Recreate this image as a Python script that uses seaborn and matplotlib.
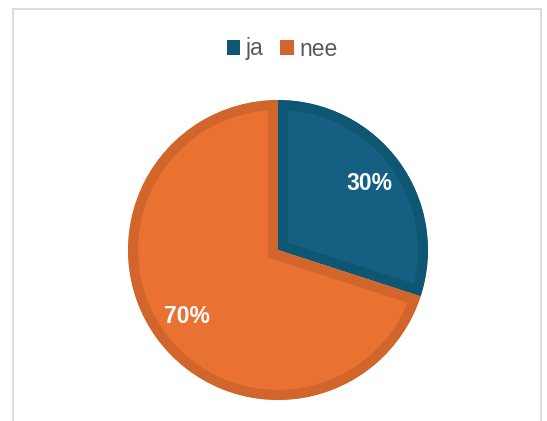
import matplotlib
matplotlib.use("Agg")
import matplotlib.pyplot as plt
import seaborn as sns
from matplotlib.patches import Rectangle, Patch

categories = ["ja", "nee"]
values = [30, 70]
fill_colors = ["#156082", "#E97132"]
edge_colors = ["#0F5673", "#D2652C"]

sns.set_theme(style="white")
plt.rcParams['font.family'] = ['Liberation Sans', 'DejaVu Sans']

W, H = 547, 421
fig = plt.figure(figsize=(W / 100, H / 100), dpi=100)
fig.patch.set_facecolor("white")

cx, cy, r = 278, 250, 150
ax = fig.add_axes([(cx - r) / W, (H - cy - r) / H, 2 * r / W, 2 * r / H])
wedges, texts, autotexts = ax.pie(
    values, colors=fill_colors, startangle=90, counterclock=False,
    autopct=lambda p: f"{p:.0f}%", pctdistance=0.75,
    textprops=dict(color="white", fontsize=16.5, fontweight="bold"),
    wedgeprops=dict(linewidth=14.5, joinstyle="miter"))
for w, ec in zip(wedges, edge_colors):
    w.set_edgecolor(ec)
    w.set_clip_path(w)
    w.set_clip_on(True)
ax.set_xlim(-1, 1)
ax.set_ylim(-1, 1)
ax.set_aspect("equal")
ax.axis("off")

# outer chart border
fig.add_artist(Rectangle((12.5 / W, -0.1), (541 - 12.5) / W, 1 - 9.5 / H + 0.1,
                         transform=fig.transFigure, fill=False,
                         edgecolor="#D9D9D9", linewidth=1.3))

handles = [Patch(facecolor=c, edgecolor="none") for c in edge_colors]
leg = fig.legend(handles, categories, loc="center", bbox_to_anchor=(282 / W, 1 - 49 / H),
                 ncol=2, frameon=False, fontsize=16.5, handlelength=0.61, handleheight=0.61,
                 handletextpad=0.22, columnspacing=0.74, borderpad=0)
for t in leg.get_texts():
    t.set_color("#595959")

fig.savefig("out.png", dpi=100)
